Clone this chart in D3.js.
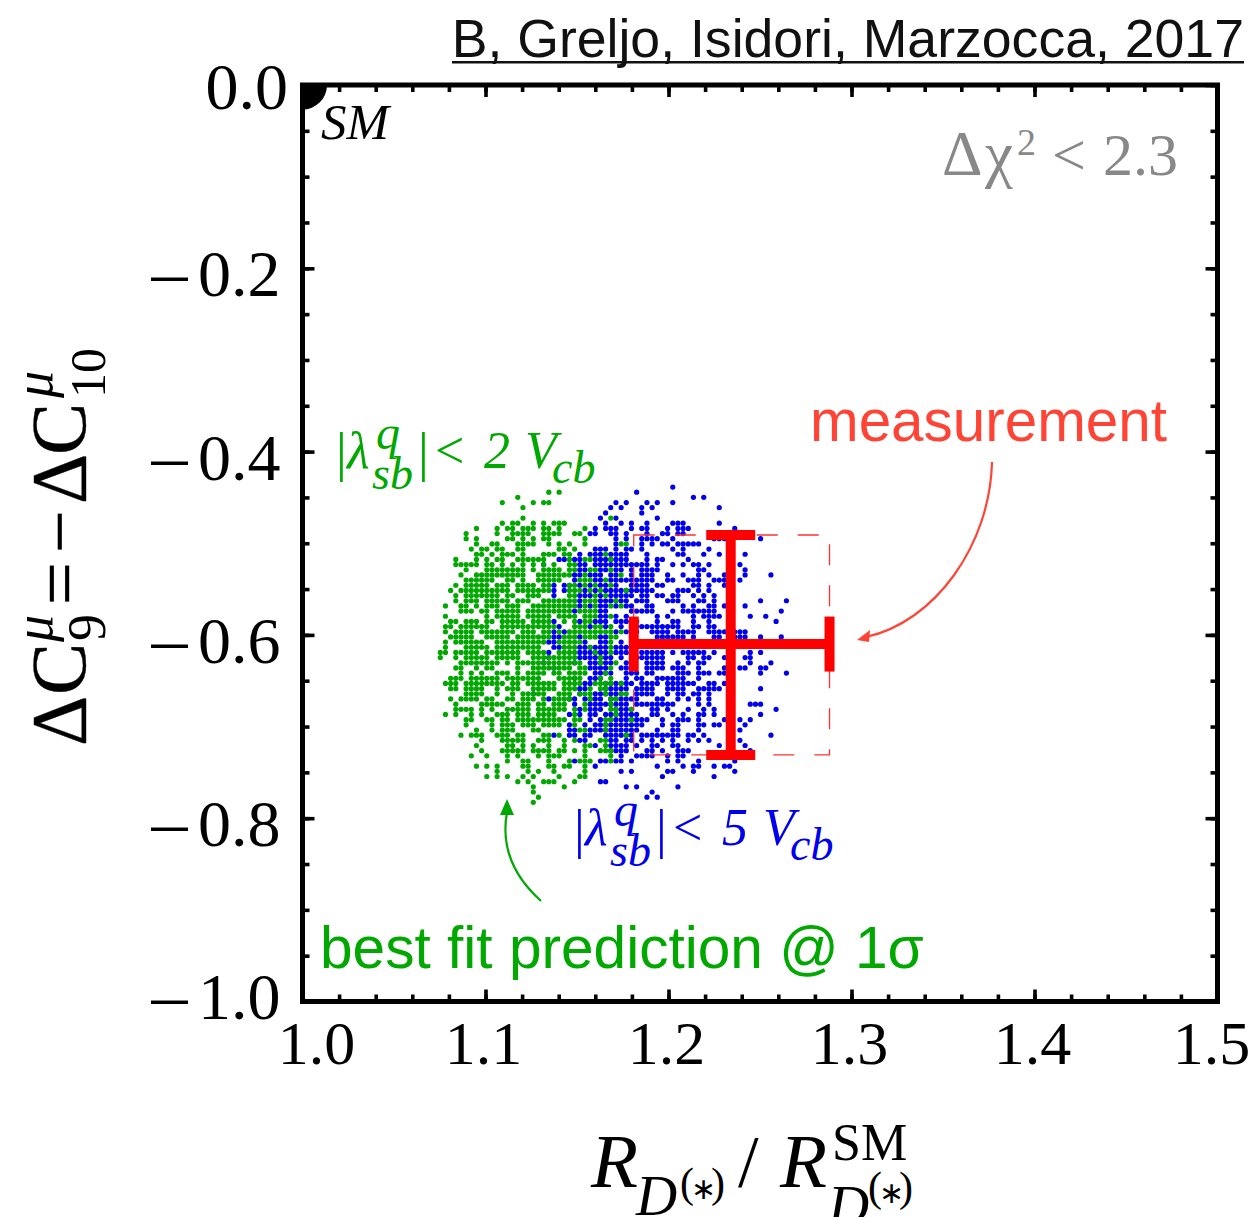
<!DOCTYPE html>
<html>
<head>
<meta charset="utf-8">
<script src="https://cdn.jsdelivr.net/npm/d3@7"></script>
<style>
  html, body { margin: 0; padding: 0; background: #fff; }
  svg { display: block; }
  .serif { font-family: "Liberation Serif", serif; }
  .sans { font-family: "Liberation Sans", sans-serif; }
</style>
</head>
<body>
<svg id="chart" width="1256" height="1217"></svg>
<script>
const xTicks = [1.0, 1.1, 1.2, 1.3, 1.4, 1.5];
const yTicks = [0.0, -0.2, -0.4, -0.6, -0.8, -1.0];
const xMinor = d3.range(0, 26).map(i => 1 + i * 0.02);
const yMinor = d3.range(0, 21).map(i => -i * 0.05);

// the scan points sit on a regular lattice, so each row lists its occupied columns
const latticeX0 = 1.0753, latticeDx = 0.002823;
const latticeY0 = -0.4443, latticeDy = 0.00564;
const firstRow = -1;

const blueRows = [
  "45", "38", "49 51", "34 36 40 42 45", "33 35 39 41 54", "32 39", "31 34 42",
  "32 35 37 40 45-47 54", "30 32-34 37 39 40 44 46-48 57", "29 30 33 34 36 40 43 44 46 47",
  "34 36 39-42 45 53-55 62", "34 39 41 43 44 46-50", "30-32 34 36 37 39 45 47 52",
  "27 29-31 33-36 40 46 47 51 54 59", "23 24 26 27 30-36 40 42 43 48",
  "20 27 28 30-40 42 45 47 49 50 52 58", "27 28 31 32 34 35 37 39-42 50 51 59",
  "26 27 29-31 33 34 37 39-41 44 47 50 52 55 59 64", "26 30 31 33-41 44 45 48-50 53-56 58",
  "22 24 25 27 29 31 32 34 37-40 42 43 49 50 52 55", "22 24 28 30 32-41 46-48 50 52",
  "22 27-29 31 33-37 39 40 42 43 45 46 49 51 53", "27 31-36 38-40 44-46 50 51 53 62 67",
  "27 29 31 32 34 36 37 40 41 47 49 52 53 55 59", "26 31 32 37-41 45 47-53 66",
  "31 32 34 36 42 44 49 51-54 60 63", "22 27 30-32 34-36 38 42 45 46 49 52 65",
  "23 29 32 35 37-46 49 50 52 53", "22 24 34 36 38 41-44 46-49 52-59",
  "22 23 27 31 32 37 42-47 49 53 54 57-59 62 66", "21 22 28 31 32 35 37-40",
  "22 23 27-32 34-37", "21 27-32 34-36 39-43 45 47-51 53 60 62",
  "21 27-33 35 38-43 48 49 51 52 55 59 60", "20 26 29-33 36 40-43 46 48 50 51 60 64",
  "22 29-32 35-37 40-43 45-47 50 55 58 59 62 63", "30-33 36-38 40 41 46-48 50-52 54 55 62 67",
  "26 29-31 36 38 39 42-47 50", "28 29 32-37 39-42 44-49 52 53 55",
  "27 28 32-36 38-41 44-47 50-54 62", "18 27 30-35 38-41 44 46 47 49 50 52",
  "21 25 26 28-31 33-38 42 43 46 48 50 52", "26 29-36 38-45 50 52 60-62",
  "27 29-31 34-37 41 42 44 48 51 53 65", "25 27 29 30 32-38 41 42 45 47 50 51 53 62",
  "29 31 33-40 43 46-48 50 55 58 60", "25 28 30-39 43 45 46 50 51 53 54 59",
  "25 26 29-38 42 45 46 50 58", "22 25 26 28 29 32-37 39-46 48 49 51 64",
  "27 28 33 34 36 37 39 41 43 45 48 50 52 58", "30 33-36 38 41 42 45 46 54 59",
  "33-36 40 41 43 46-48 60", "35 38-41 44 46 47", "26 31 32 34 35 37 44 46 50 57",
  "30 42 47 49 50 53 55 56", "35 37 44 45 49 57", "43 53", "31 32", "36 38 46", "41", "40 42"
];

const greenRows = [
  "", "21 23", "15", "12 18 20 21", "16", "", "16 33", "12 14 15 18 20 22-24",
  "7 11 13 14 16-18 20 21 23 28", "5 11 14-17 20-23 26 27", "5 7 13 14 16 18 20 21 28",
  "7 10 11 15-18 21 23 25 28 35 36", "6 8 9 11 12 15 16 23 24 26", "7 8 10 12-14 16 20-22 24 25 32",
  "3 7 9 11 12 15-20 25 28 29 33", "3-7 9 10 12 14 16 18 20 22 25 26", "5 9-16 18 20-23 25 26 29 30 33",
  "4 7-16 19-25 28 35", "5-10 13 14 16 19-23 27-29 32", "3 5-9 11-13 15-18 20 21 25 26 28 30 33",
  "2 4-13 15-21 25-27 29 31 36", "3 5-11 13 14 17-19 25 26 30 32", "3 5-7 9-13 15-17 20-26 28-30 34",
  "1 4 5 7 9-11 13-15 18-26 28 30 33 35", "4-6 8 9 11-15 17-25 27-30", "1 9 11-15 17-21 23-26 28-30 33",
  "2 3 5-7 9 10 12-16 18-21 24 26 28 29", "1 2 4-9 12-22 26-28 30 31 33", "1 3-6 8-14 16-18 20 21 23 25-33 35",
  "2-6 9-13 15-21 24-26 28-30 33 34", "1 3-8 11-20 23-27 33", "1 5-9 11-19 24-26 29 33",
  "0 1 3-7 9-15 17-20 23-26 30 33", "0 3 5-9 11-15 18-26 31", "4-11 13 15-17 18-27 31 34",
  "3 4 7 9 10 15 18-25 27 28 33", "4 6 8 11-13 15 17-20 22 23 25-28 32",
  "2-4 6-11 13-19 23-27 31 33", "1-3 5-12 14 15 17-22 24-27 30-33 35", "2 3 5-8 11 13-15 18-22 24-26 29 31 32",
  "5-8 11 14 16-20 23-25 27-29 32 35 36", "2 4-7 9 10 13 14 16-18 20 22-25 29 33 34", "3 8-12 15-17 19 20 22-24 28 33",
  "3-6 8 10 13-17 19-24 26 28 33 34 37", "1 3 6 8 11-13 15-17 19-22 26 34", "5 6 9 10 12 13 15-24 26 27 32 33 37",
  "5 10 12-14 16-18 20-23 26 32", "7 10 12-14 18 19 27 28 32", "4 6-8 11-13 15 16 20 21 23 36",
  "8 12-16 19-21 24 26 31 32", "7 13 14 16 18 21 24 28 29 32", "8 12-16 18-21 23 24 26 28 31 32 33",
  "6 9 13 15 19 21-23 28 33", "13 16 17 21 25 27-29 33", "7 9 11 16 17 21 22 24 25 28",
  "11 17 19 22 28", "9 11 13 16 18 23 27 28", "15 17 20-22 26", "18 24", "18", "19", "18"
];

// error bars
const measureX = [1.234], measureXLow = [1.181], measureXHigh = [1.288];
const measureY = [-0.610], measureYLow = [-0.731], measureYHigh = [-0.491];
const smX = [1.0], smY = [0.0];

function decodeRows(rows) {
  const pts = [];
  rows.forEach((row, i) => {
    row.split(" ").filter(s => s).forEach(part => {
      const ends = part.split("-").map(Number);
      const last = ends.length > 1 ? ends[1] : ends[0];
      for (let c = ends[0]; c <= last; c++) {
        pts.push([latticeX0 + c * latticeDx, latticeY0 - (i + firstRow) * latticeDy]);
      }
    });
  });
  return pts;
}

const svg = d3.select("#chart");
const plotL = 302.5, plotR = 1217.5, plotT = 85, plotB = 1001.5;
const x = d3.scaleLinear().domain([1, 1.5]).range([plotL, plotR]);
const y = d3.scaleLinear().domain([0, -1]).range([plotT, plotB]);

const red = "#ff0000", green = "#00a800", blue = "#0000ee";

// scan points, blue underneath
const dots = svg.append("g");
dots.selectAll("circle.blue").data(decodeRows(blueRows)).enter().append("circle")
  .attr("class", "blue").attr("cx", d => x(d[0])).attr("cy", d => y(d[1])).attr("r", 2.6).attr("fill", blue);
dots.selectAll("circle.green").data(decodeRows(greenRows)).enter().append("circle")
  .attr("class", "green").attr("cx", d => x(d[0])).attr("cy", d => y(d[1])).attr("r", 2.6).attr("fill", green);

// SM point, clipped by the frame
svg.append("clipPath").attr("id", "plotClip").append("rect")
  .attr("x", plotL).attr("y", plotT).attr("width", plotR - plotL).attr("height", plotB - plotT);
svg.append("circle").attr("cx", x(smX[0])).attr("cy", y(smY[0])).attr("r", 24.5)
  .attr("fill", "#000").attr("clip-path", "url(#plotClip)");

// measurement box and cross
svg.append("rect")
  .attr("x", x(measureXLow[0])).attr("y", y(measureYHigh[0]))
  .attr("width", x(measureXHigh[0]) - x(measureXLow[0])).attr("height", y(measureYLow[0]) - y(measureYHigh[0]))
  .attr("fill", "none").attr("stroke", "#ff3030").attr("stroke-width", 1.3).attr("stroke-dasharray", "21 20");
const cross = svg.append("g").attr("stroke", red).attr("stroke-width", 10).attr("fill", "none");
cross.append("line").attr("x1", x(measureXLow[0])).attr("x2", x(measureXHigh[0])).attr("y1", y(measureY[0])).attr("y2", y(measureY[0]));
cross.append("line").attr("x1", x(measureX[0])).attr("x2", x(measureX[0])).attr("y1", y(measureYLow[0])).attr("y2", y(measureYHigh[0]));
[measureXLow[0], measureXHigh[0]].forEach(v => {
  cross.append("line").attr("x1", x(v)).attr("x2", x(v)).attr("y1", y(measureY[0]) - 27.5).attr("y2", y(measureY[0]) + 27.5);
});
[measureYLow[0], measureYHigh[0]].forEach(v => {
  cross.append("line").attr("y1", y(v)).attr("y2", y(v)).attr("x1", x(measureX[0]) - 24.5).attr("x2", x(measureX[0]) + 24.5);
});

// frame and ticks on all four sides
function drawAxis(axis, tx, ty, values, size) {
  const g = svg.append("g").attr("transform", `translate(${tx},${ty})`)
    .call(axis.tickValues(values).tickSize(size).tickSizeOuter(0).tickFormat(""));
  g.select(".domain").remove();
  g.selectAll("line").attr("stroke", "#000").attr("stroke-width", 3.6);
  return g;
}
[[xMinor, 7], [xTicks, 12]].forEach(([vals, size]) => {
  drawAxis(d3.axisTop(x), 0, plotB, vals, size);
  drawAxis(d3.axisBottom(x), 0, plotT, vals, size);
});
[[yMinor, 7], [yTicks, 12]].forEach(([vals, size]) => {
  drawAxis(d3.axisRight(y), plotL, 0, vals, size);
  drawAxis(d3.axisLeft(y), plotR, 0, vals, size);
});
svg.append("rect").attr("x", plotL).attr("y", plotT).attr("width", plotR - plotL).attr("height", plotB - plotT)
  .attr("fill", "none").attr("stroke", "#000").attr("stroke-width", 5);

// tick labels
const xLabelShift = { "1.0": 14, "1.5": -6 };
svg.append("g").selectAll("text").data(xTicks).enter().append("text")
  .attr("class", "serif").attr("font-size", 62).attr("text-anchor", "middle")
  .attr("x", d => x(d) + (xLabelShift[d.toFixed(1)] || -2)).attr("y", 1064)
  .text(d => d.toFixed(1));
const yBase = d => y(d) + (d === 0 ? 24 : d === -1 ? 17 : 28);
const yLabels = svg.append("g").selectAll("g").data(yTicks).enter().append("g");
yLabels.append("text").attr("class", "serif").attr("font-size", 66).attr("text-anchor", "end")
  .attr("x", d => d === 0 ? 288 : 280.5).attr("y", yBase)
  .text(d => Math.abs(d).toFixed(1));
yLabels.filter(d => d !== 0).append("text").attr("class", "serif").attr("font-size", 72).attr("text-anchor", "middle")
  .attr("x", 169.5).attr("y", yBase)
  .text("\u2013");

// each label piece is [string, x, y, size, style]
function mathLabel(fill, pieces) {
  const g = svg.append("g").attr("fill", fill);
  pieces.forEach(p => {
    g.append("text").attr("class", "serif").attr("x", p[1]).attr("y", p[2])
      .attr("font-size", p[3]).attr("font-style", p[4] || "normal").text(p[0]);
  });
  return g;
}

// header and annotations
svg.append("text").attr("class", "sans").attr("x", 1244).attr("y", 57).attr("text-anchor", "end")
  .attr("font-size", 53.6).attr("fill", "#111").text("B, Greljo, Isidori, Marzocca, 2017");
svg.append("rect").attr("x", 452).attr("y", 61).attr("width", 792).attr("height", 2.5).attr("fill", "#111");

mathLabel("#000", [["SM", 321, 139, 51, "italic"]]);
mathLabel("#888888", [
  ["\u0394", 942, 175, 63], ["\u03c7", 985, 175, 63], ["2", 1017, 155, 38],
  ["<", 1052, 175, 60], ["2.3", 1103, 175, 60]
]);

function couplingLabel(fill, dx, dy, bound) {
  mathLabel(fill, [
    ["|", 336 + dx, 470 + dy, 54], ["\u03bb", 347 + dx, 468 + dy, 52, "italic"],
    ["q", 376 + dx, 449 + dy, 48, "italic"], ["sb", 372 + dx, 489 + dy, 46, "italic"],
    ["|", 418 + dx, 470 + dy, 54], ["<", 435 + dx, 468 + dy, 52],
    [bound, 484 + dx, 468 + dy, 52, "italic"], ["V", 525 + dx, 468 + dy, 52, "italic"],
    ["cb", 552 + dx, 483 + dy, 46, "italic"]
  ]);
}
couplingLabel(green, 0, 0, "2");
couplingLabel(blue, 238, 377, "5");

svg.append("text").attr("class", "sans").attr("x", 810).attr("y", 441).attr("font-size", 58.4)
  .attr("fill", "#ff4436").text("measurement");
svg.append("text").attr("class", "sans").attr("x", 320).attr("y", 968).attr("font-size", 58.6)
  .attr("fill", green).text("best fit prediction @ 1\u03c3");

// arrows
function arrow(color, from, c1, c2, to, tip) {
  const p = d3.path();
  p.moveTo(from[0], from[1]);
  p.bezierCurveTo(c1[0], c1[1], c2[0], c2[1], to[0], to[1]);
  svg.append("path").attr("d", p.toString()).attr("fill", "none").attr("stroke", color).attr("stroke-width", 2.2);
  svg.append("path").attr("d", d3.line()(tip) + "Z").attr("fill", color);
}
arrow("#ff4436", [992, 462], [990, 545], [935, 622], [866, 637], [[857, 640], [870, 630], [869, 642]]);
arrow(green, [541, 901], [512, 875], [501, 845], [507, 812], [[507, 799], [500, 815], [514, 815]]);

// y title, rotated piece by piece: [string, position along the axis, baseline, size, style]
const yTitle = [
  ["\u0394", 746, 85, 78], ["C", 695, 85, 78], ["9", 641, 105, 54], ["\u03bc", 642, 52, 54, "italic"],
  ["=", 605, 85, 76], ["\u2212", 553, 85, 76],
  ["\u0394", 504, 85, 78], ["C", 455, 85, 78], ["10", 398, 105, 50], ["\u03bc", 398, 52, 54, "italic"]
];
yTitle.forEach(p => {
  svg.append("text").attr("class", "serif").attr("transform", `translate(${p[2]},${p[1]}) rotate(-90)`)
    .attr("font-size", p[3]).attr("font-style", p[4] || "normal").attr("stroke", p[3] > 60 ? "#000" : "none")
    .attr("stroke-width", 0.4).text(p[0]);
});

// x title
mathLabel("#000", [
  ["R", 591, 1187, 77, "italic"], ["D", 636, 1215, 57, "italic"],
  ["(", 680, 1197, 42], ["\u2217", 691, 1199, 30], [")", 711, 1197, 42],
  ["/", 738, 1187, 74], ["R", 780, 1187, 77, "italic"], ["SM", 832, 1160, 52],
  ["D", 828, 1225, 57, "italic"],
  ["(", 868, 1201, 42], ["\u2217", 879, 1203, 30], [")", 899, 1201, 42]
]);
</script>
</body>
</html>
